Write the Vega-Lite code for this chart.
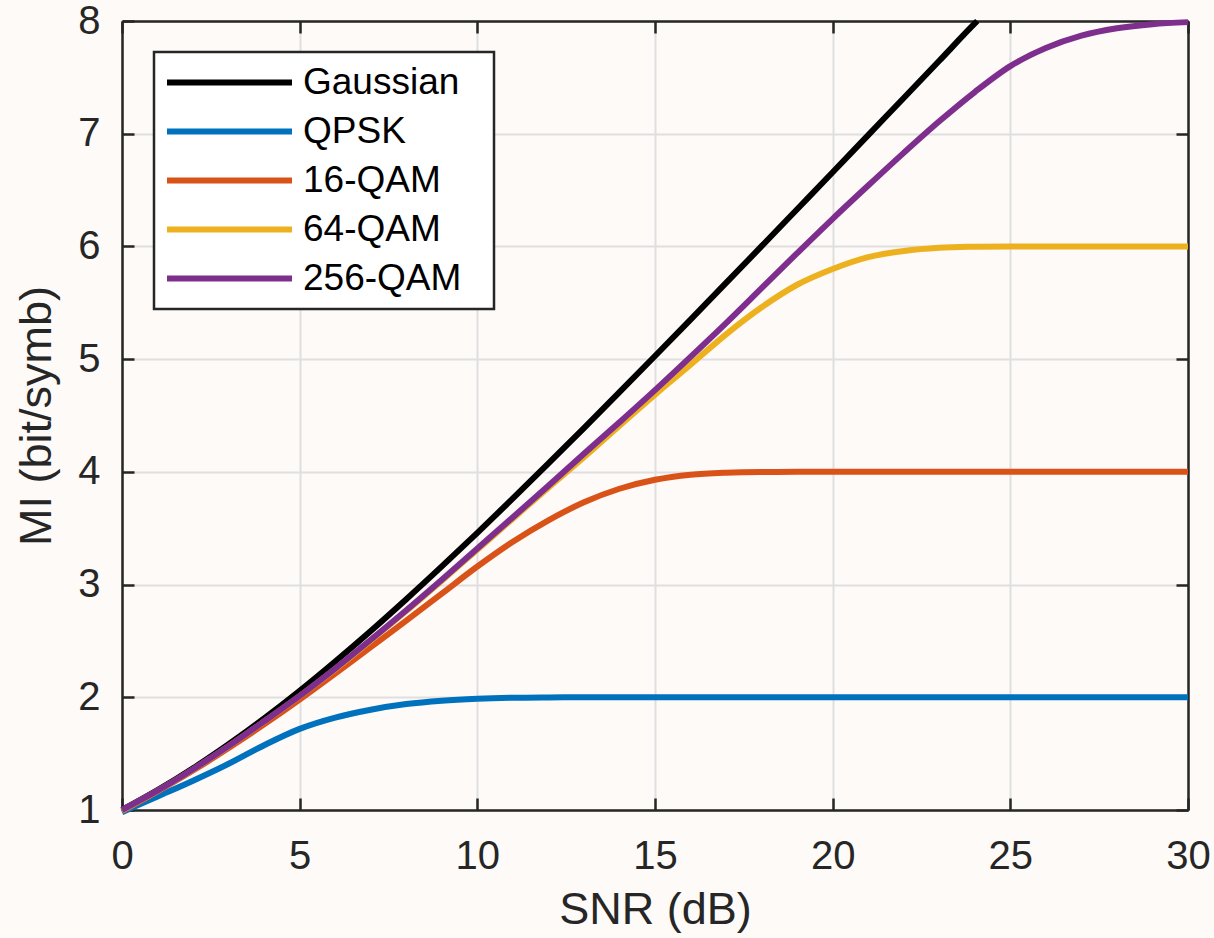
{
  "$schema": "https://vega.github.io/schema/vega-lite/v6.json",
  "width": 1066,
  "height": 789,
  "autosize": {"type": "none"},
  "padding": {"left": 122, "top": 21, "right": 26, "bottom": 128},
  "background": "#fdfaf8",
  "config": {
    "view": {"stroke": null},
    "font": "Liberation Sans",
    "axis": {
      "grid": true,
      "gridColor": "#dfdfdf",
      "gridWidth": 2,
      "gridOpacity": 1,
      "domainColor": "#262626",
      "domainWidth": 2.5,
      "tickColor": "#262626",
      "tickWidth": 2.5,
      "tickSize": -12,
      "labelFontSize": 40,
      "labelColor": "#262626",
      "labelFlush": false,
      "labelOverlap": false,
      "titleFontSize": 45,
      "titleFontWeight": "normal",
      "titleColor": "#262626"
    },
    "legend": {"strokeWidth": 2.5}
  },
  "data": {
    "values": [
      {"snr": 0, "mi": 1.0, "scheme": "Gaussian"},
      {"snr": 1, "mi": 1.176, "scheme": "Gaussian"},
      {"snr": 2, "mi": 1.37, "scheme": "Gaussian"},
      {"snr": 3, "mi": 1.583, "scheme": "Gaussian"},
      {"snr": 4, "mi": 1.812, "scheme": "Gaussian"},
      {"snr": 5, "mi": 2.057, "scheme": "Gaussian"},
      {"snr": 6, "mi": 2.317, "scheme": "Gaussian"},
      {"snr": 7, "mi": 2.588, "scheme": "Gaussian"},
      {"snr": 8, "mi": 2.87, "scheme": "Gaussian"},
      {"snr": 9, "mi": 3.161, "scheme": "Gaussian"},
      {"snr": 10, "mi": 3.459, "scheme": "Gaussian"},
      {"snr": 11, "mi": 3.764, "scheme": "Gaussian"},
      {"snr": 12, "mi": 4.075, "scheme": "Gaussian"},
      {"snr": 13, "mi": 4.389, "scheme": "Gaussian"},
      {"snr": 14, "mi": 4.707, "scheme": "Gaussian"},
      {"snr": 15, "mi": 5.028, "scheme": "Gaussian"},
      {"snr": 16, "mi": 5.351, "scheme": "Gaussian"},
      {"snr": 17, "mi": 5.676, "scheme": "Gaussian"},
      {"snr": 18, "mi": 6.002, "scheme": "Gaussian"},
      {"snr": 19, "mi": 6.33, "scheme": "Gaussian"},
      {"snr": 20, "mi": 6.658, "scheme": "Gaussian"},
      {"snr": 21, "mi": 6.988, "scheme": "Gaussian"},
      {"snr": 22, "mi": 7.317, "scheme": "Gaussian"},
      {"snr": 23, "mi": 7.647, "scheme": "Gaussian"},
      {"snr": 24, "mi": 7.978, "scheme": "Gaussian"},
      {"snr": 24.07, "mi": 8.0, "scheme": "Gaussian"},

      {"snr": 0, "mi": 0.98, "scheme": "QPSK"},
      {"snr": 1, "mi": 1.12, "scheme": "QPSK"},
      {"snr": 2, "mi": 1.26, "scheme": "QPSK"},
      {"snr": 3, "mi": 1.41, "scheme": "QPSK"},
      {"snr": 4, "mi": 1.575, "scheme": "QPSK"},
      {"snr": 5, "mi": 1.72, "scheme": "QPSK"},
      {"snr": 6, "mi": 1.82, "scheme": "QPSK"},
      {"snr": 7, "mi": 1.89, "scheme": "QPSK"},
      {"snr": 8, "mi": 1.94, "scheme": "QPSK"},
      {"snr": 9, "mi": 1.97, "scheme": "QPSK"},
      {"snr": 10, "mi": 1.987, "scheme": "QPSK"},
      {"snr": 11, "mi": 1.996, "scheme": "QPSK"},
      {"snr": 12, "mi": 1.999, "scheme": "QPSK"},
      {"snr": 13, "mi": 2.0, "scheme": "QPSK"},
      {"snr": 20, "mi": 2.0, "scheme": "QPSK"},
      {"snr": 30, "mi": 2.0, "scheme": "QPSK"},

      {"snr": 0, "mi": 0.99, "scheme": "16-QAM"},
      {"snr": 1, "mi": 1.165, "scheme": "16-QAM"},
      {"snr": 2, "mi": 1.35, "scheme": "16-QAM"},
      {"snr": 3, "mi": 1.55, "scheme": "16-QAM"},
      {"snr": 4, "mi": 1.76, "scheme": "16-QAM"},
      {"snr": 5, "mi": 1.98, "scheme": "16-QAM"},
      {"snr": 6, "mi": 2.21, "scheme": "16-QAM"},
      {"snr": 7, "mi": 2.445, "scheme": "16-QAM"},
      {"snr": 8, "mi": 2.68, "scheme": "16-QAM"},
      {"snr": 9, "mi": 2.92, "scheme": "16-QAM"},
      {"snr": 10, "mi": 3.16, "scheme": "16-QAM"},
      {"snr": 11, "mi": 3.38, "scheme": "16-QAM"},
      {"snr": 12, "mi": 3.57, "scheme": "16-QAM"},
      {"snr": 13, "mi": 3.73, "scheme": "16-QAM"},
      {"snr": 14, "mi": 3.85, "scheme": "16-QAM"},
      {"snr": 15, "mi": 3.93, "scheme": "16-QAM"},
      {"snr": 16, "mi": 3.975, "scheme": "16-QAM"},
      {"snr": 17, "mi": 3.993, "scheme": "16-QAM"},
      {"snr": 18, "mi": 3.999, "scheme": "16-QAM"},
      {"snr": 19, "mi": 4.0, "scheme": "16-QAM"},
      {"snr": 25, "mi": 4.0, "scheme": "16-QAM"},
      {"snr": 30, "mi": 4.0, "scheme": "16-QAM"},

      {"snr": 0, "mi": 0.995, "scheme": "64-QAM"},
      {"snr": 1, "mi": 1.17, "scheme": "64-QAM"},
      {"snr": 2, "mi": 1.36, "scheme": "64-QAM"},
      {"snr": 3, "mi": 1.565, "scheme": "64-QAM"},
      {"snr": 4, "mi": 1.785, "scheme": "64-QAM"},
      {"snr": 5, "mi": 2.01, "scheme": "64-QAM"},
      {"snr": 6, "mi": 2.25, "scheme": "64-QAM"},
      {"snr": 7, "mi": 2.505, "scheme": "64-QAM"},
      {"snr": 8, "mi": 2.765, "scheme": "64-QAM"},
      {"snr": 9, "mi": 3.035, "scheme": "64-QAM"},
      {"snr": 10, "mi": 3.31, "scheme": "64-QAM"},
      {"snr": 11, "mi": 3.585, "scheme": "64-QAM"},
      {"snr": 12, "mi": 3.86, "scheme": "64-QAM"},
      {"snr": 13, "mi": 4.13, "scheme": "64-QAM"},
      {"snr": 14, "mi": 4.41, "scheme": "64-QAM"},
      {"snr": 15, "mi": 4.685, "scheme": "64-QAM"},
      {"snr": 16, "mi": 4.95, "scheme": "64-QAM"},
      {"snr": 17, "mi": 5.22, "scheme": "64-QAM"},
      {"snr": 18, "mi": 5.46, "scheme": "64-QAM"},
      {"snr": 19, "mi": 5.66, "scheme": "64-QAM"},
      {"snr": 20, "mi": 5.8, "scheme": "64-QAM"},
      {"snr": 21, "mi": 5.905, "scheme": "64-QAM"},
      {"snr": 22, "mi": 5.96, "scheme": "64-QAM"},
      {"snr": 23, "mi": 5.988, "scheme": "64-QAM"},
      {"snr": 24, "mi": 5.997, "scheme": "64-QAM"},
      {"snr": 25, "mi": 6.0, "scheme": "64-QAM"},
      {"snr": 30, "mi": 6.0, "scheme": "64-QAM"},

      {"snr": 0, "mi": 1.0, "scheme": "256-QAM"},
      {"snr": 1, "mi": 1.172, "scheme": "256-QAM"},
      {"snr": 2, "mi": 1.362, "scheme": "256-QAM"},
      {"snr": 3, "mi": 1.567, "scheme": "256-QAM"},
      {"snr": 4, "mi": 1.787, "scheme": "256-QAM"},
      {"snr": 5, "mi": 2.013, "scheme": "256-QAM"},
      {"snr": 6, "mi": 2.255, "scheme": "256-QAM"},
      {"snr": 7, "mi": 2.51, "scheme": "256-QAM"},
      {"snr": 8, "mi": 2.772, "scheme": "256-QAM"},
      {"snr": 9, "mi": 3.043, "scheme": "256-QAM"},
      {"snr": 10, "mi": 3.32, "scheme": "256-QAM"},
      {"snr": 11, "mi": 3.597, "scheme": "256-QAM"},
      {"snr": 12, "mi": 3.877, "scheme": "256-QAM"},
      {"snr": 13, "mi": 4.16, "scheme": "256-QAM"},
      {"snr": 14, "mi": 4.44, "scheme": "256-QAM"},
      {"snr": 15, "mi": 4.725, "scheme": "256-QAM"},
      {"snr": 16, "mi": 5.02, "scheme": "256-QAM"},
      {"snr": 17, "mi": 5.32, "scheme": "256-QAM"},
      {"snr": 18, "mi": 5.63, "scheme": "256-QAM"},
      {"snr": 19, "mi": 5.94, "scheme": "256-QAM"},
      {"snr": 20, "mi": 6.245, "scheme": "256-QAM"},
      {"snr": 21, "mi": 6.54, "scheme": "256-QAM"},
      {"snr": 22, "mi": 6.83, "scheme": "256-QAM"},
      {"snr": 23, "mi": 7.11, "scheme": "256-QAM"},
      {"snr": 24, "mi": 7.37, "scheme": "256-QAM"},
      {"snr": 25, "mi": 7.6, "scheme": "256-QAM"},
      {"snr": 26, "mi": 7.76, "scheme": "256-QAM"},
      {"snr": 27, "mi": 7.87, "scheme": "256-QAM"},
      {"snr": 28, "mi": 7.935, "scheme": "256-QAM"},
      {"snr": 29, "mi": 7.972, "scheme": "256-QAM"},
      {"snr": 30, "mi": 7.99, "scheme": "256-QAM"}
    ]
  },
  "layer": [
    {
      "mark": {"type": "line", "strokeWidth": 6, "interpolate": "monotone"},
      "encoding": {
        "x": {
          "field": "snr",
          "type": "quantitative",
          "scale": {"domain": [0, 30], "nice": false, "zero": false},
          "axis": {
            "orient": "bottom",
            "values": [0, 5, 10, 15, 20, 25, 30],
            "title": "SNR (dB)",
            "labelPadding": 38,
            "titlePadding": 11
          }
        },
        "y": {
          "field": "mi",
          "type": "quantitative",
          "scale": {"domain": [1, 8], "nice": false, "zero": false},
          "axis": {
            "orient": "left",
            "values": [1, 2, 3, 4, 5, 6, 7, 8],
            "title": "MI (bit/symb)",
            "labelPadding": 34,
            "titlePadding": 18
          }
        },
        "color": {
          "field": "scheme",
          "type": "nominal",
          "scale": {
            "domain": ["Gaussian", "QPSK", "16-QAM", "64-QAM", "256-QAM"],
            "range": ["#000000", "#0072BD", "#D95319", "#EDB120", "#7E2F8E"]
          },
          "legend": {
            "orient": "none",
            "legendX": 32,
            "legendY": 31,
            "title": null,
            "symbolType": "M-5,0H5M19.2,0",
            "symbolStrokeWidth": 6,
            "symbolSize": 625,
            "symbolOffset": 45,
            "labelFontSize": 37,
            "labelColor": "#000000",
            "labelOffset": 55,
            "fillColor": "#ffffff",
            "strokeColor": "#262626",
            "padding": 12,
            "rowPadding": 11
          }
        }
      }
    },
    {
      "mark": {"type": "line", "strokeOpacity": 0},
      "encoding": {
        "x": {
          "field": "snr",
          "type": "quantitative",
          "axis": {
            "orient": "top",
            "values": [0, 5, 10, 15, 20, 25, 30],
            "labels": false,
            "title": null,
            "grid": false
          }
        },
        "y": {
          "field": "mi",
          "type": "quantitative",
          "axis": {
            "orient": "right",
            "values": [1, 2, 3, 4, 5, 6, 7, 8],
            "labels": false,
            "title": null,
            "grid": false
          }
        },
        "detail": {"field": "scheme", "type": "nominal"}
      }
    }
  ],
  "resolve": {"axis": {"x": "independent", "y": "independent"}}
}
